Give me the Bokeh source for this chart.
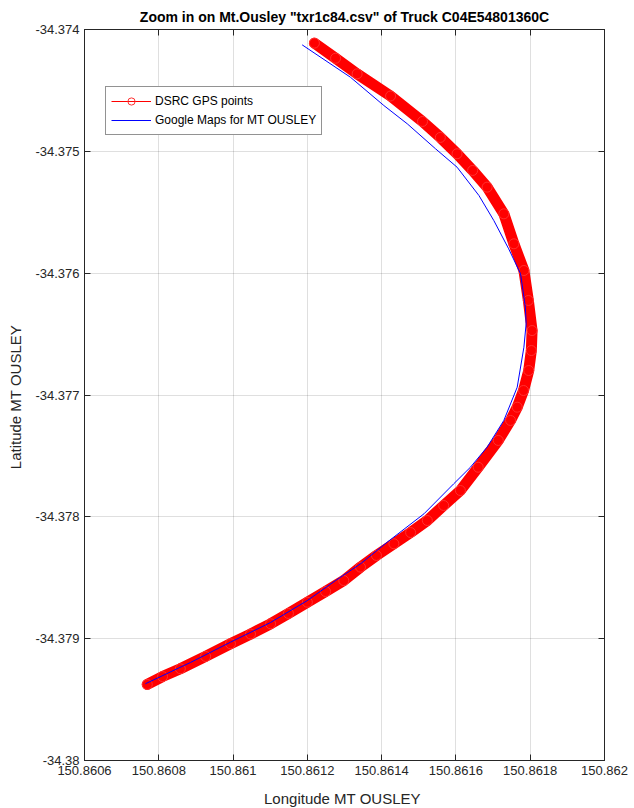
from bokeh.plotting import figure
from bokeh.models import (FixedTicker, CustomJSTickFormatter, LinearAxis, Legend,
                          LegendItem, Range1d)
from bokeh.embed import file_html
from bokeh.resources import INLINE

# DSRC GPS points (longitude, latitude)
dsrc_lon = [150.861219, 150.861276, 150.861334, 150.861424, 150.861510, 150.861558,
            150.861603, 150.861645, 150.861684, 150.861729, 150.861756, 150.861783,
            150.861795, 150.861805, 150.861803, 150.861796, 150.861782, 150.861765,
            150.861747, 150.861714, 150.861660, 150.861612, 150.861567, 150.861523,
            150.861478, 150.861433, 150.861386, 150.861343, 150.861298, 150.861249,
            150.861200, 150.861149, 150.861101, 150.861047, 150.860993, 150.860926,
            150.860858, 150.860810, 150.860769]
dsrc_lat = [-34.374112, -34.374236, -34.374364, -34.374546, -34.374755, -34.374886,
            -34.375020, -34.375157, -34.375294, -34.375513, -34.375759, -34.375978,
            -34.376224, -34.376471, -34.376635, -34.376799, -34.376963, -34.377100,
            -34.377209, -34.377373, -34.377593, -34.377784, -34.377907, -34.378030,
            -34.378129, -34.378221, -34.378317, -34.378413, -34.378523, -34.378613,
            -34.378701, -34.378793, -34.378878, -34.378962, -34.379042, -34.379146,
            -34.379247, -34.379311, -34.379376]

# Google Maps reference road for MT OUSLEY
gmap_lon = [150.861186, 150.861316, 150.861406, 150.861469, 150.861545, 150.861603,
            150.861662, 150.861702, 150.861742, 150.861774, 150.861787, 150.861789,
            150.861783, 150.861765, 150.861729, 150.861684, 150.861639, 150.861594,
            150.861514, 150.861415, 150.861343, 150.861276, 150.861200, 150.861101,
            150.860993, 150.860885, 150.860764]
gmap_lat = [-34.374126, -34.374392, -34.374624, -34.374774, -34.374979, -34.375130,
            -34.375363, -34.375568, -34.375800, -34.376005, -34.376279, -34.376416,
            -34.376608, -34.376936, -34.377209, -34.377428, -34.377593, -34.377729,
            -34.377975, -34.378208, -34.378386, -34.378523, -34.378687, -34.378867,
            -34.379029, -34.379196, -34.379370]

x_ticks = [150.8606, 150.8608, 150.8610, 150.8612, 150.8614, 150.8616, 150.8618, 150.8620]
x_tick_labels = ["150.8606", "150.8608", "150.861", "150.8612", "150.8614",
                 "150.8616", "150.8618", "150.862"]
y_ticks = [-34.380, -34.379, -34.378, -34.377, -34.376, -34.375, -34.374]
y_tick_labels = ["-34.38", "-34.379", "-34.378", "-34.377", "-34.376", "-34.375", "-34.374"]

FONT = "Liberation Sans"
AX = "#262626"

js = """
let best = 0, d = Infinity;
for (let i = 0; i < t.length; i++) { const e = Math.abs(t[i] - tick); if (e < d) { d = e; best = i; } }
return l[best];
"""

p = figure(frame_width=520, frame_height=731,
           x_range=Range1d(x_ticks[0], x_ticks[-1]),
           y_range=Range1d(y_ticks[0], y_ticks[-1]),
           output_backend="svg", toolbar_location=None,
           min_border_left=84, min_border_right=28, min_border_top=29, min_border_bottom=48)

p.title.text = 'Zoom in on Mt.Ousley "txr1c84.csv" of Truck C04E54801360C'
p.title.text_font = FONT
p.title.text_font_size = "14px"
p.title.text_font_style = "bold"
p.title.text_color = "black"
p.title.align = "center"
p.title.standoff = 9

p.background_fill_color = "white"
p.border_fill_color = "white"
p.outline_line_color = AX
p.outline_line_width = 1

def style_axis(ax, ticks, labels, show_labels=True):
    ax.ticker = FixedTicker(ticks=ticks)
    ax.major_tick_in = 6
    ax.major_tick_out = 0
    ax.minor_tick_line_color = None
    ax.axis_line_color = AX
    ax.major_tick_line_color = AX
    if show_labels:
        ax.formatter = CustomJSTickFormatter(args=dict(t=ticks, l=labels), code=js)
        ax.major_label_text_font = FONT
        ax.major_label_text_font_size = "13px"
        ax.major_label_text_color = AX
        ax.major_label_standoff = 5
    else:
        ax.major_label_text_font_size = "1px"
        ax.major_label_text_color = None
        ax.major_label_standoff = 0

xax = p.xaxis[0]
yax = p.yaxis[0]
style_axis(xax, x_ticks, x_tick_labels)
style_axis(yax, y_ticks, y_tick_labels)
xax.axis_label = "Longitude  MT OUSLEY"
yax.axis_label = "Latitude  MT OUSLEY"
for ax in (xax, yax):
    ax.axis_label_text_font = FONT
    ax.axis_label_text_font_size = "15px"
    ax.axis_label_text_font_style = "normal"
    ax.axis_label_text_color = AX
xax.axis_label_standoff = 12
yax.axis_label_standoff = 8

top_ax = LinearAxis()
style_axis(top_ax, x_ticks, x_tick_labels, show_labels=False)
p.add_layout(top_ax, "above")
right_ax = LinearAxis()
style_axis(right_ax, y_ticks, y_tick_labels, show_labels=False)
p.add_layout(right_ax, "right")

p.xgrid.ticker = FixedTicker(ticks=x_ticks)
p.ygrid.ticker = FixedTicker(ticks=y_ticks)
p.grid.grid_line_color = AX
p.grid.grid_line_alpha = 0.15
p.grid.grid_line_width = 1

band = p.line(dsrc_lon, dsrc_lat, line_color="red", line_width=11,
              line_join="round", line_cap="round")
thin = p.line(dsrc_lon, dsrc_lat, line_color="red", line_width=1)
circ = p.scatter(dsrc_lon, dsrc_lat, marker="circle", size=10, fill_color=None,
                 line_color="#ff3030", line_width=1)
blue = p.line(gmap_lon, gmap_lat, line_color="blue", line_width=1)

legend = Legend(items=[LegendItem(label="DSRC GPS points", renderers=[thin, circ]),
                       LegendItem(label="Google Maps for MT OUSLEY", renderers=[blue])],
                location=(21, 625))
legend.label_text_font = FONT
legend.label_text_font_size = "12px"
legend.label_text_color = "black"
legend.glyph_width = 40
legend.glyph_height = 18
legend.label_height = 18
legend.spacing = 1
legend.padding = 5
legend.margin = 0
legend.label_standoff = 4
legend.border_line_color = AX
legend.border_line_width = 1
legend.background_fill_color = "white"
legend.background_fill_alpha = 1
p.add_layout(legend)

open("out.html", "w").write(file_html(p, INLINE))
